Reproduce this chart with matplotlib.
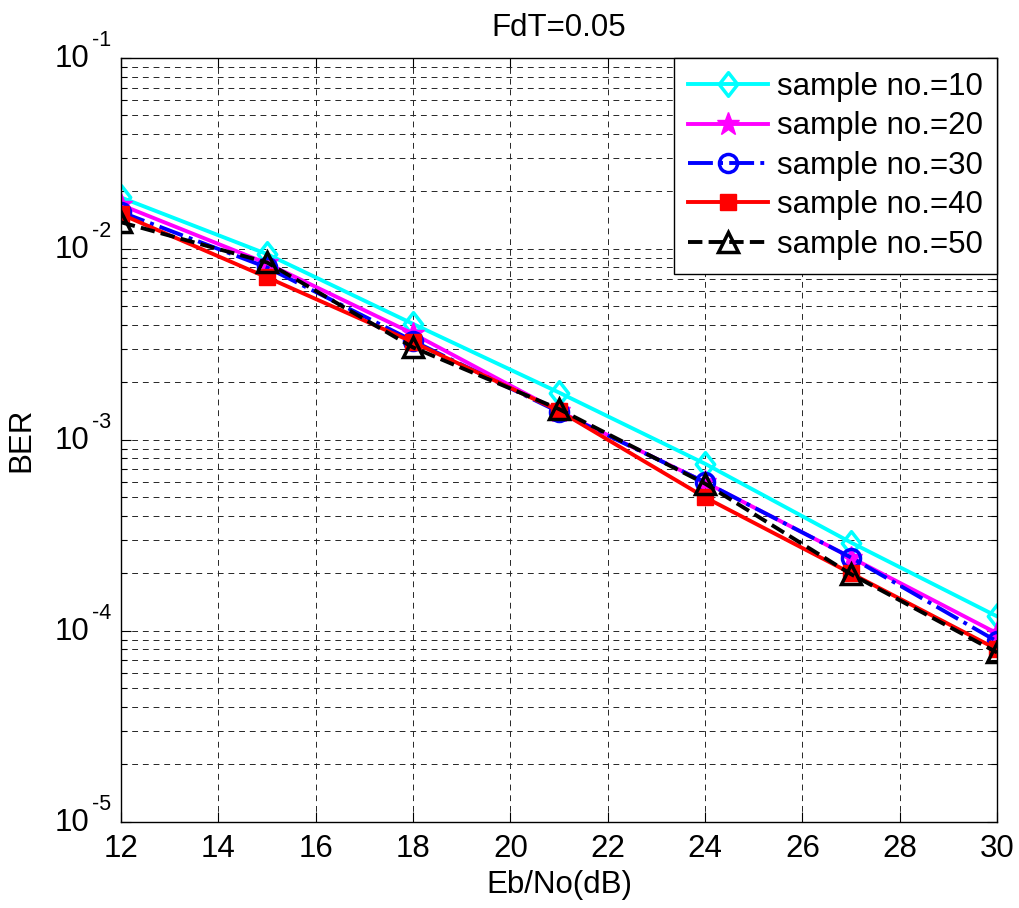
import matplotlib
matplotlib.use("Agg")
import matplotlib.pyplot as plt
from matplotlib.path import Path
from matplotlib.ticker import LogLocator, FixedLocator, NullFormatter

plt.rcParams["font.family"] = ["Liberation Sans", "DejaVu Sans"]

# Eb/No points and BER per sample count
ebno = [12, 15, 18, 21, 24, 27, 30]
ber_10 = [1.86e-2, 9.4e-3, 4.05e-3, 1.77e-3, 7.5e-4, 2.9e-4, 1.19e-4]
ber_20 = [1.70e-2, 8.4e-3, 3.6e-3, 1.41e-3, 6.0e-4, 2.42e-4, 9.7e-5]
ber_30 = [1.56e-2, 8.0e-3, 3.3e-3, 1.40e-3, 6.0e-4, 2.42e-4, 8.8e-5]
ber_40 = [1.52e-2, 7.1e-3, 3.25e-3, 1.42e-3, 5.0e-4, 2.0e-4, 8.0e-5]
ber_50 = [1.38e-2, 8.5e-3, 3.05e-3, 1.45e-3, 5.9e-4, 1.98e-4, 7.7e-5]
labels = ["sample no.=10", "sample no.=20", "sample no.=30",
          "sample no.=40", "sample no.=50"]
x_ticks = [12, 14, 16, 18, 20, 22, 24, 26, 28, 30]
y_exponents = [-5, -4, -3, -2, -1]

FS = 22.5

# slightly taller-than-wide diamond, like MATLAB's
diamond = Path([(0, 1), (0.78, 0), (0, -1), (-0.78, 0), (0, 1)],
               [Path.MOVETO, Path.LINETO, Path.LINETO, Path.LINETO, Path.CLOSEPOLY])

styles = [
    dict(color="#00FFFF", ls="-", marker=diamond, ms=17, mfc="none", mew=2.5),
    dict(color="#FF00FF", ls="-", marker="*", ms=17, mfc="#FF00FF", mew=1),
    dict(color="#0000FF", ls="-.", marker="o", ms=13, mfc="none", mew=2.5),
    dict(color="#FF0000", ls="-", marker="s", ms=11, mfc="#FF0000", mew=1),
    dict(color="#000000", ls="--", marker="^", ms=15, mfc="none", mew=2.5),
]

fig = plt.figure(figsize=(10.2, 9.08), dpi=100)
ax = fig.add_axes([0.1186, 0.095, 0.8589, 0.8411])

for ys, lab, st in zip([ber_10, ber_20, ber_30, ber_40, ber_50], labels, styles):
    ax.semilogy(ebno, ys, lw=2.8, label=lab, **st)

ax.set_xlim(12, 30)
ax.set_ylim(1e-5, 1e-1)
ax.xaxis.set_major_locator(FixedLocator(x_ticks))
ax.yaxis.set_major_locator(FixedLocator([10.0 ** e for e in y_exponents]))
ax.yaxis.set_minor_locator(LogLocator(base=10, subs=range(2, 10), numticks=10))
ax.yaxis.set_major_formatter(NullFormatter())
ax.yaxis.set_minor_formatter(NullFormatter())

# MATLAB-style "10" with a big raised exponent
for e in y_exponents:
    ax.annotate("10", xy=(0, 10.0 ** e), xycoords=("axes fraction", "data"),
                xytext=(-22.5, -1), textcoords="offset points",
                ha="right", va="center", fontsize=FS)
    ax.annotate(str(e), xy=(0, 10.0 ** e), xycoords=("axes fraction", "data"),
                xytext=(-20.5, 8.5), textcoords="offset points",
                ha="left", va="baseline", fontsize=15.5)

grid_kw = dict(color="0.15", linestyle=(0, (6, 5)), linewidth=0.7)
ax.grid(True, which="major", axis="both", **grid_kw)
ax.grid(True, which="minor", axis="y", **grid_kw)
ax.set_axisbelow(True)

ax.tick_params(which="both", direction="in", top=True, right=True,
               labelsize=FS, width=0.8)
ax.tick_params(which="major", length=7, pad=9)
ax.tick_params(which="minor", length=4)
for sp in ax.spines.values():
    sp.set_linewidth(1.0)

ax.set_title("FdT=0.05", fontsize=FS, pad=16)
ax.set_xlabel("Eb/No(dB)", fontsize=FS, labelpad=4)
ax.set_ylabel("BER", fontsize=FS)
ax.yaxis.set_label_coords(-0.096, 0.5)

leg = ax.legend(loc="upper right", fontsize=FS, handlelength=2.55,
                borderaxespad=0.0, labelspacing=0.3, handletextpad=0.3,
                borderpad=0.45, fancybox=False, framealpha=1)
leg.get_frame().set_edgecolor("black")
leg.get_frame().set_linewidth(1.0)

fig.savefig("out.png", dpi=100, facecolor="white")
